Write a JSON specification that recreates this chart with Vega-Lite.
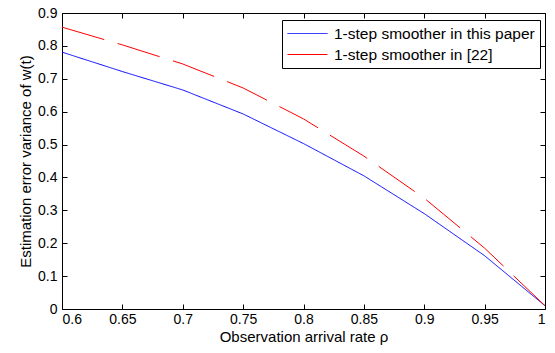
{
  "$schema": "https://vega.github.io/schema/vega-lite/v6.json",
  "autosize": "none",
  "width": 483,
  "height": 296,
  "padding": {"left": 62, "top": 13, "right": 10, "bottom": 44},
  "background": "white",
  "config": {
    "font": "Liberation Sans",
    "view": {"stroke": null},
    "axis": {
      "grid": false,
      "domainColor": "black",
      "domainWidth": 1,
      "tickColor": "black",
      "tickSize": -5,
      "tickWidth": 1,
      "labelColor": "black",
      "labelFont": "Liberation Sans",
      "labelFontSize": 14,
      "titleFont": "Liberation Sans",
      "titleFontSize": 15,
      "titleFontWeight": "normal",
      "titleColor": "black"
    }
  },
  "data": {
    "values": [
      {"x": 0.6, "v": 0.781, "s": "1-step smoother in this paper"},
      {"x": 0.65, "v": 0.722, "s": "1-step smoother in this paper"},
      {"x": 0.7, "v": 0.666, "s": "1-step smoother in this paper"},
      {"x": 0.75, "v": 0.593, "s": "1-step smoother in this paper"},
      {"x": 0.8, "v": 0.503, "s": "1-step smoother in this paper"},
      {"x": 0.85, "v": 0.405, "s": "1-step smoother in this paper"},
      {"x": 0.9, "v": 0.29, "s": "1-step smoother in this paper"},
      {"x": 0.95, "v": 0.162, "s": "1-step smoother in this paper"},
      {"x": 1.0, "v": 0.01, "s": "1-step smoother in this paper"},
      {"x": 0.6, "v": 0.857, "s": "1-step smoother in [22]"},
      {"x": 0.65, "v": 0.803, "s": "1-step smoother in [22]"},
      {"x": 0.7, "v": 0.745, "s": "1-step smoother in [22]"},
      {"x": 0.75, "v": 0.672, "s": "1-step smoother in [22]"},
      {"x": 0.8, "v": 0.578, "s": "1-step smoother in [22]"},
      {"x": 0.85, "v": 0.465, "s": "1-step smoother in [22]"},
      {"x": 0.9, "v": 0.337, "s": "1-step smoother in [22]"},
      {"x": 0.95, "v": 0.185, "s": "1-step smoother in [22]"},
      {"x": 1.0, "v": 0.01, "s": "1-step smoother in [22]"}
    ]
  },
  "resolve": {"axis": {"x": "independent", "y": "independent"}},
  "layer": [
    {
      "mark": {"type": "line", "strokeWidth": 1, "clip": true},
      "encoding": {
        "x": {"field": "x", "type": "quantitative",
              "scale": {"domain": [0.6, 1], "nice": false, "zero": false},
              "axis": {"orient": "bottom", "values": [0.6,0.65,0.7,0.75,0.8,0.85,0.9,0.95,1], "format": "~g", "title": "Observation arrival rate ρ", "labelPadding": 8, "titlePadding": 3}},
        "y": {"field": "v", "type": "quantitative",
              "scale": {"domain": [0, 0.9], "nice": false},
              "axis": {"orient": "left", "values": [0,0.1,0.2,0.3,0.4,0.5,0.6,0.7,0.8,0.9], "format": "~g", "title": "Estimation error variance of w(t)", "labelPadding": 10, "titlePadding": 4}},
        "color": {"field": "s", "type": "nominal",
                  "scale": {"domain": ["1-step smoother in this paper", "1-step smoother in [22]"], "range": ["#0000ff", "#ff0000"]},
                  "legend": {"title": null, "orient": "none", "legendX": 220, "legendY": 7,
                             "strokeColor": "black", "fillColor": "white", "padding": 5,
                             "symbolType": "stroke", "symbolSize": 1600, "symbolStrokeWidth": 1,
                             "clipHeight": 17,
                             "labelFontSize": 15.5, "labelFont": "Liberation Sans", "labelColor": "black",
                             "labelOffset": 6, "rowPadding": 4, "labelLimit": 300}},
        "strokeDash": {"field": "s", "type": "nominal",
                       "scale": {"domain": ["1-step smoother in this paper", "1-step smoother in [22]"], "range": [[1, 0], [44, 14]]},
                       "legend": null}
      }
    },
    {
      "mark": {"type": "line", "opacity": 0},
      "encoding": {
        "x": {"field": "x", "type": "quantitative",
              "axis": {"orient": "top", "values": [0.6,0.65,0.7,0.75,0.8,0.85,0.9,0.95,1], "labels": false, "title": null}},
        "y": {"field": "v", "type": "quantitative",
              "axis": {"orient": "right", "values": [0,0.1,0.2,0.3,0.4,0.5,0.6,0.7,0.8,0.9], "labels": false, "title": null}}
      }
    }
  ]
}
